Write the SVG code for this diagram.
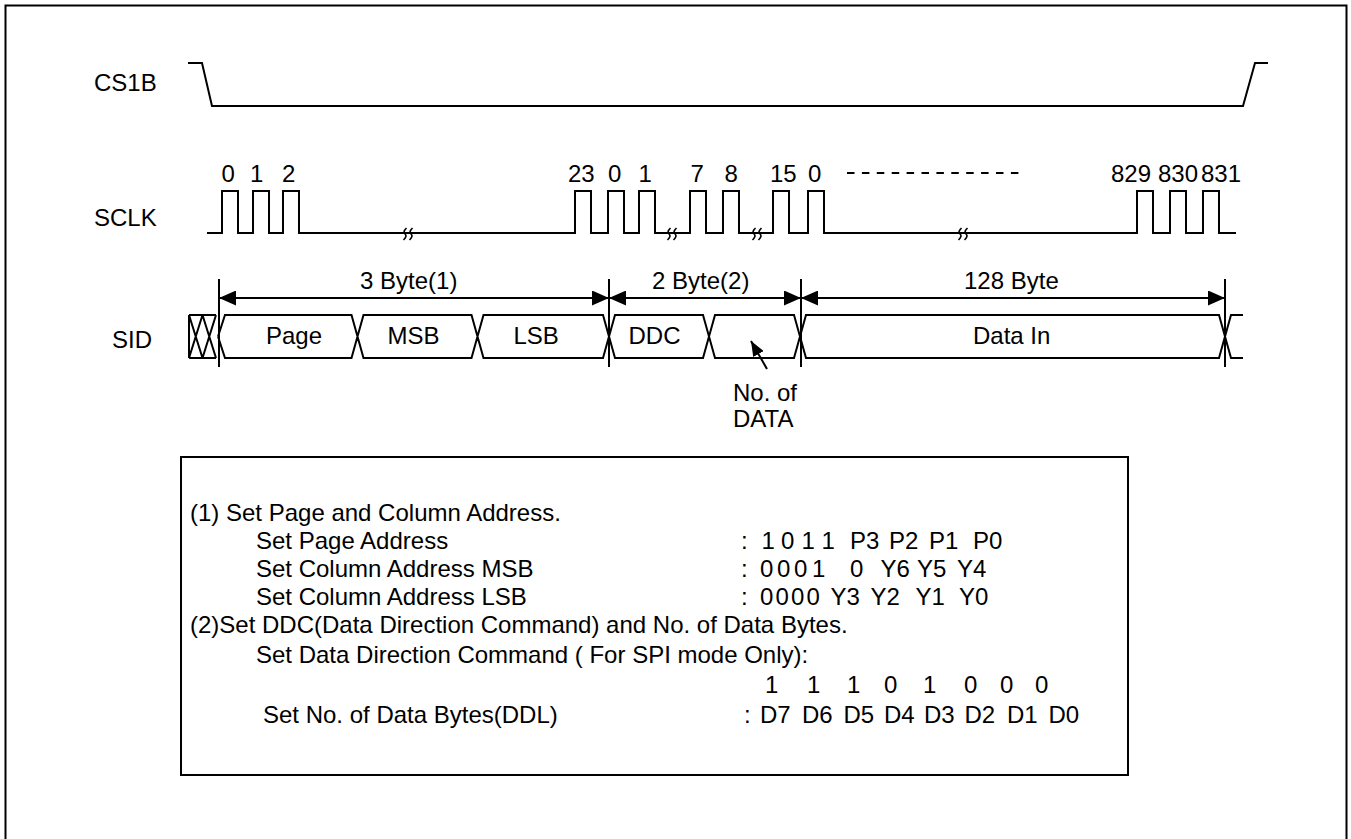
<svg xmlns="http://www.w3.org/2000/svg" width="1351" height="839" viewBox="0 0 1351 839">
<defs>
<style>
.w{fill:none;stroke:#000;stroke-width:2;stroke-linejoin:miter}
.t{font-family:"Liberation Sans",Arial,sans-serif;font-size:24px;fill:#000}
.brk{fill:none;stroke:#000;stroke-width:1.6}
</style>
<marker id="ah" viewBox="0 0 17 15" refX="17" refY="7.5" markerWidth="17" markerHeight="15" markerUnits="userSpaceOnUse" orient="auto-start-reverse"><path d="M0,0 L17,7.5 L0,15 z" fill="#000"/></marker>
<marker id="ptr" viewBox="0 0 15 12" refX="15" refY="6" markerWidth="15" markerHeight="12" markerUnits="userSpaceOnUse" orient="auto"><path d="M0,0 L15,6 L0,12 z" fill="#000"/></marker>
</defs>
<rect x="0" y="0" width="1351" height="839" fill="#fff"/>
<path class="w" d="M5.5,845 V5.5 H1346.5 V845" stroke-width="2.5"/>

<g id="cs1b">
<text class="t" x="94" y="90.5">CS1B</text>
<path class="w" d="M188,63 H202 L212,106 H1243 L1255,63 H1268"/>
</g>

<g id="sclk">
<text class="t" x="94" y="226">SCLK</text>
<path class="w" d="M207,233 H222 V191 H238 V233 H253 V191 H269 V233 H283 V191 H299 V233 H575 V191 H591 V233 H608 V191 H624 V233 H639 V191 H655 V233 H690 V191 H706 V233 H723 V191 H739 V233 H773 V191 H789 V233 H808 V191 H824 V233 H1137 V191 H1153 V233 H1170 V191 H1186 V233 H1203 V191 H1219 V233 H1236"/>
<path class="brk" d="M406.5,228 Q402.5,232 405,234 Q407.5,236 403.5,240 M412.5,228 Q408.5,232 411,234 Q413.5,236 409.5,240 M670.5,228 Q666.5,232 669,234 Q671.5,236 667.5,240 M676.5,228 Q672.5,232 675,234 Q677.5,236 673.5,240 M755.5,228 Q751.5,232 754,234 Q756.5,236 752.5,240 M761.5,228 Q757.5,232 760,234 Q762.5,236 758.5,240 M961.5,228 Q957.5,232 960,234 Q962.5,236 958.5,240 M967.5,228 Q963.5,232 966,234 Q968.5,236 964.5,240"/>
<g class="t">
<text x="221.5" y="182">0</text><text x="250" y="182">1</text><text x="282" y="182">2</text>
<text x="568" y="182">23</text><text x="608" y="182">0</text><text x="638.5" y="182">1</text>
<text x="690.5" y="182">7</text><text x="724.5" y="182">8</text><text x="770" y="182">15</text><text x="808" y="182">0</text>
<text x="1111" y="182">829</text><text x="1158" y="182">830</text><text x="1201" y="182">831</text>
</g>
<line x1="847" y1="173" x2="1022" y2="173" stroke="#000" stroke-width="2" stroke-dasharray="7.5 7.4"/>
</g>

<g id="sid">
<text class="t" x="112" y="348">SID</text>
<path class="w" d="M189,315 V358 M189,315 H216 M189,358 H216 M189,315 L202.5,358 M189,358 L202.5,315 M202.5,315 L216,358 M202.5,358 L216,315"/>
<path class="w" d="M218,336.5 L225,315 H351.5 L363.5,358 H471.5 L483.5,315 H603 L609,336.5 L615,315 H703 L715,358 H794 L806,315 H1219 L1225,336.5 L1231,358 H1243 M218,336.5 L225,358 H351.5 L363.5,315 H471.5 L483.5,358 H603 L609,336.5 L615,358 H703 L715,315 H794 L806,358 H1219 L1225,336.5 L1231,315 H1243"/>
<g class="t">
<text x="266" y="343.5">Page</text>
<text x="387.5" y="343.5">MSB</text>
<text x="513.5" y="343.5">LSB</text>
<text x="628.5" y="343.5">DDC</text>
<text x="973" y="343.5">Data In</text>
<text x="733" y="400.5">No. of</text>
<text x="733" y="426.5">DATA</text>
</g>
</g>

<g id="dims">
<path class="w" d="M219,279 V367 M609,279 V367 M801,279 V367 M1225,279 V367"/>
<g class="t">
<text x="360" y="289">3 Byte(1)</text>
<text x="652" y="289">2 Byte(2)</text>
<text x="964" y="289">128 Byte</text>
</g>
</g>

<g id="connectors">
<line class="w" x1="219" y1="298" x2="609" y2="298" marker-start="url(#ah)" marker-end="url(#ah)"/>
<line class="w" x1="609" y1="298" x2="801" y2="298" marker-start="url(#ah)" marker-end="url(#ah)"/>
<line class="w" x1="801" y1="298" x2="1225" y2="298" marker-start="url(#ah)" marker-end="url(#ah)"/>
<line class="w" x1="767" y1="369" x2="751" y2="341" marker-end="url(#ptr)"/>
</g>

<g id="notes">
<rect x="181" y="457" width="947" height="318" fill="none" stroke="#000" stroke-width="2"/>
<g class="t">
<text x="190" y="521">(1) Set Page and Column Address.</text>
<text x="256" y="548.5">Set Page Address</text>
<text x="256" y="577">Set Column Address MSB</text>
<text x="256" y="605">Set Column Address LSB</text>
<text x="190" y="633">(2)Set DDC(Data Direction Command) and No. of Data Bytes.</text>
<text x="256" y="662.5">Set Data Direction Command ( For SPI mode Only):</text>
<text x="263" y="722.5">Set No. of Data Bytes(DDL)</text>
<text y="548.5"><tspan x="741">:</tspan><tspan x="761.5">1</tspan><tspan x="781">0</tspan><tspan x="801.5">1</tspan><tspan x="821.5">1</tspan><tspan x="850">P3</tspan><tspan x="889">P2</tspan><tspan x="929">P1</tspan><tspan x="973">P0</tspan></text>
<text y="577"><tspan x="741">:</tspan><tspan x="760">0</tspan><tspan x="777">0</tspan><tspan x="794">0</tspan><tspan x="812">1</tspan><tspan x="850">0</tspan><tspan x="880.5">Y6</tspan><tspan x="917">Y5</tspan><tspan x="957">Y4</tspan></text>
<text y="605"><tspan x="741">:</tspan><tspan x="760">0</tspan><tspan x="775.5">0</tspan><tspan x="791">0</tspan><tspan x="806.5">0</tspan><tspan x="830.5">Y3</tspan><tspan x="870.5">Y2</tspan><tspan x="915.5">Y1</tspan><tspan x="959">Y0</tspan></text>
<text y="692.5"><tspan x="765">1</tspan><tspan x="807">1</tspan><tspan x="847">1</tspan><tspan x="884">0</tspan><tspan x="923">1</tspan><tspan x="964">0</tspan><tspan x="1000">0</tspan><tspan x="1035">0</tspan></text>
<text y="722.5"><tspan x="744">:</tspan><tspan x="760">D7</tspan><tspan x="802">D6</tspan><tspan x="843.5">D5</tspan><tspan x="884">D4</tspan><tspan x="924">D3</tspan><tspan x="964.5">D2</tspan><tspan x="1007">D1</tspan><tspan x="1048.5">D0</tspan></text>
</g>
</g>
</svg>
